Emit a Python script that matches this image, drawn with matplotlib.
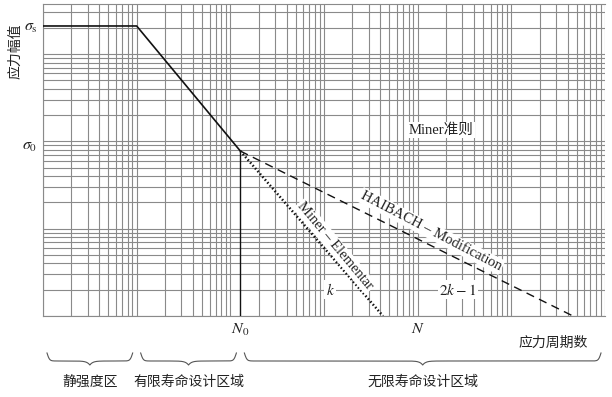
import numpy as np
import matplotlib
matplotlib.use('Agg')
import matplotlib.pyplot as plt
import matplotlib.transforms as mtrans
from matplotlib.ticker import LogLocator, NullFormatter

plt.rcParams['font.family'] = ['Liberation Serif', 'Noto Sans CJK SC']
plt.rcParams['mathtext.fontset'] = 'stix'

# 读图估计的数据 (对数坐标)
x_range = [1, 1e6]
y_range = [1, 3750]
sigma_s = 2100
sigma_0 = 77.5
N_knee = 10
N_0 = 128
N_miner_end = 4265
N_haibach_end = 455000
N_mark = 1e4

curve_x = [x_range[0], N_knee, N_0]
curve_y = [sigma_s, sigma_s, sigma_0]
miner_x = [N_0, N_miner_end]
miner_y = [sigma_0, y_range[0]]
haibach_x = [N_0, N_haibach_end]
haibach_y = [sigma_0, y_range[0]]

zone_bounds = [x_range[0], N_knee, N_0, x_range[1]]
zone_labels = ['静强度区', '有限寿命设计区域', '无限寿命设计区域']

txt_color = '#222222'
grid_color = '#8a8a8a'
cjk = ['Noto Sans CJK SC', 'DejaVu Sans']

fig = plt.figure(figsize=(6.12, 3.97), dpi=100)
ax = fig.add_axes([43/612, 1-316/397, 562/612, 312/397])
ax.set_xscale('log')
ax.set_yscale('log')
ax.set_xlim(x_range)
ax.set_ylim(y_range)

for axis in (ax.xaxis, ax.yaxis):
    axis.set_major_locator(LogLocator(base=10, numticks=20))
    axis.set_minor_locator(LogLocator(base=10, subs=np.arange(2, 10), numticks=20))
    axis.set_major_formatter(NullFormatter())
    axis.set_minor_formatter(NullFormatter())
ax.tick_params(which='both', length=0)
ax.grid(True, which='both', color=grid_color, lw=0.8)
for s in ['left', 'bottom', 'top']:
    ax.spines[s].set_color(grid_color)
    ax.spines[s].set_linewidth(0.8)
ax.spines['right'].set_visible(False)

# 曲线
ax.plot(curve_x, curve_y, color='#111111', lw=1.2, zorder=3)
ax.plot([N_0, N_0], [y_range[0], sigma_0], color='#111111', lw=1.0, zorder=3)
ax.plot(miner_x, miner_y, color='#111111', lw=1.8, ls=(0, (0.6, 0.9)), zorder=3)
ax.plot(haibach_x, haibach_y, color='#111111', lw=1.0, ls=(0, (6, 4)), zorder=3)

box = dict(facecolor='white', edgecolor='none', pad=1.0)

# 标注
ax.text(-0.05, 0.85, '应力幅值', rotation=90, ha='center', va='center',
        transform=ax.transAxes, family=cjk, fontsize=10, color=txt_color)
ax.annotate(r'$\sigma_{\rm s}$', xy=(0, sigma_s), xycoords=('axes fraction', 'data'),
            xytext=(-4, -1), textcoords='offset points', ha='right', va='center',
            fontsize=11.5, color=txt_color)
ax.annotate(r'$\sigma_0$', xy=(0, sigma_0), xycoords=('axes fraction', 'data'),
            xytext=(-4, 4), textcoords='offset points', ha='right', va='center',
            fontsize=11.5, color=txt_color)
ax.annotate(r'$N_0$', xy=(N_0, 0), xycoords=('data', 'axes fraction'),
            xytext=(0, -10), textcoords='offset points', ha='center', va='center',
            fontsize=11.5, color=txt_color)
ax.annotate(r'$N$', xy=(N_mark, 0), xycoords=('data', 'axes fraction'),
            xytext=(0, -9.5), textcoords='offset points', ha='center', va='center',
            fontsize=11.5, color=txt_color)
ax.text(0.970, -0.087, '应力周期数', ha='right', va='center', transform=ax.transAxes,
        family=cjk, fontsize=10, color=txt_color)

ax.text(17700, 135, 'Miner准则', ha='center', va='center', fontsize=10.5,
        color=txt_color, bbox=box, zorder=4)
ax.text(13900, 9.4, 'HAIBACH – Modification', ha='center', va='center',
        rotation=-27.5, rotation_mode='anchor', fontsize=10.5, color=txt_color,
        bbox=box, zorder=4)
ax.text(1310, 6.3, 'Miner – Elementar', ha='center', va='center',
        rotation=-50, rotation_mode='anchor', fontsize=10.5, color=txt_color,
        bbox=box, zorder=4)
ax.text(1160, 2.0, r'$k$', ha='center', va='center', fontsize=11,
        color=txt_color, bbox=box, zorder=4)
ax.text(26900, 2.0, r'$2k-1$', ha='center', va='center', fontsize=11,
        color=txt_color, bbox=box, zorder=4)

# 下方的花括号与区段名称
ident = mtrans.IdentityTransform()
y_axis0 = ax.bbox.y0
for i, lab in enumerate(zone_labels):
    px0 = ax.transData.transform((zone_bounds[i], 1))[0] + 4
    px1 = ax.transData.transform((zone_bounds[i + 1], 1))[0] - 4
    L = (px1 - px0) / 2
    d = np.linspace(0, L, 200)
    y_end = y_axis0 - 37
    half = y_end - 8 * np.tanh(d / 2.5) - 4 * np.exp(-(L - d) / 3.0)
    xs = np.concatenate([px0 + d, px1 - d[::-1]])
    ys = np.concatenate([half, half[::-1]])
    ax.plot(xs, ys, color='#555555', lw=0.8, transform=ident, clip_on=False)
    ax.text(px0 + L, y_axis0 - 66, lab, ha='center', va='center', transform=ident,
            family=cjk, fontsize=10, color=txt_color)

fig.savefig('out.png', dpi=100)
